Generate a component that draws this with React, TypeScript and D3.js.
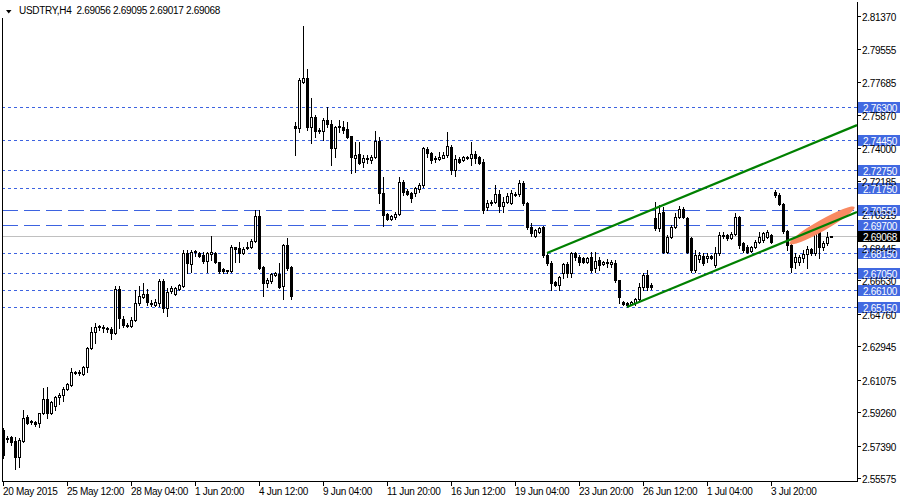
import { useEffect, useRef } from 'react';
import * as d3 from 'd3';

// USDTRY H4 bars (oldest first)
const opens = [
  2.5827, 2.5776, 2.5788, 2.5765, 2.5676, 2.5765, 2.5899, 2.5871, 2.5871, 2.5866,
  2.5921, 2.6000, 2.5921, 2.5961, 2.6011, 2.6022, 2.6055, 2.6078, 2.6150, 2.6145,
  2.6139, 2.6178, 2.6284, 2.6373, 2.6401, 2.6401, 2.6396, 2.6390, 2.6368, 2.6613,
  2.6446, 2.6412, 2.6407, 2.6440, 2.6535, 2.6569, 2.6585, 2.6535, 2.6524, 2.6535,
  2.6658, 2.6507, 2.6602, 2.6585, 2.6613, 2.6630, 2.6814, 2.6753, 2.6820, 2.6814,
  2.6803, 2.6770, 2.6809, 2.6814, 2.6764, 2.6725, 2.6714, 2.6714, 2.6848, 2.6842,
  2.6814, 2.6842, 2.6848, 2.6881, 2.7021, 2.6736, 2.6647, 2.6658, 2.6692, 2.6697,
  2.6630, 2.6859, 2.6736, 2.7523, 2.7512, 2.7768, 2.7791, 2.7517, 2.7573, 2.7501,
  2.7495, 2.7556, 2.7534, 2.7400, 2.7517, 2.7517, 2.7506, 2.7467, 2.7344, 2.7367,
  2.7322, 2.7344, 2.7333, 2.7350, 2.7439, 2.7149, 2.7032, 2.7004, 2.7015, 2.7032,
  2.7210, 2.7160, 2.7149, 2.7149, 2.7171, 2.7194, 2.7395, 2.7372, 2.7344, 2.7339,
  2.7344, 2.7361, 2.7406, 2.7277, 2.7339, 2.7333, 2.7344, 2.7344, 2.7367, 2.7350,
  2.7322, 2.7071, 2.7093, 2.7099, 2.7143, 2.7077, 2.7099, 2.7093, 2.7138, 2.7143,
  2.7205, 2.7093, 2.6959, 2.6909, 2.6931, 2.6959, 2.6803, 2.6758, 2.6652, 2.6636,
  2.6703, 2.6753, 2.6703, 2.6814, 2.6792, 2.6786, 2.6764, 2.6792, 2.6731, 2.6775,
  2.6753, 2.6764, 2.6753, 2.6758, 2.6664, 2.6541, 2.6535, 2.6530, 2.6535, 2.6558,
  2.6625, 2.6692, 2.6636, 2.7010, 2.6954, 2.7043, 2.6820, 2.6904, 2.6959, 2.7015,
  2.7060, 2.7010, 2.6898, 2.6719, 2.6781, 2.6798, 2.6786, 2.6798, 2.6747, 2.6814,
  2.6915, 2.6915, 2.6898, 2.6920, 2.7015, 2.6870, 2.6848, 2.6825, 2.6848, 2.6876,
  2.6887, 2.6904, 2.6915, 2.7154, 2.7138, 2.7088, 2.6937, 2.6859, 2.6764, 2.6764,
  2.6786, 2.6809, 2.6837, 2.6814, 2.6948, 2.6848, 2.6870, 2.69056,
];
const highs = [
  2.5838, 2.5793, 2.5793, 2.5788, 2.5782, 2.5938, 2.5910, 2.5882, 2.5877, 2.5921,
  2.6061, 2.6067, 2.5988, 2.6016, 2.6033, 2.6067, 2.6089, 2.6173, 2.6156, 2.6161,
  2.6184, 2.6290, 2.6401, 2.6424, 2.6412, 2.6412, 2.6401, 2.6401, 2.6630, 2.6630,
  2.6463, 2.6424, 2.6457, 2.6608, 2.6630, 2.6647, 2.6613, 2.6552, 2.6558, 2.6669,
  2.6669, 2.6619, 2.6630, 2.6624, 2.6641, 2.6831, 2.6831, 2.6831, 2.6831, 2.6820,
  2.6820, 2.6820, 2.6909, 2.6820, 2.6764, 2.6731, 2.6719, 2.6859, 2.6848, 2.6876,
  2.6848, 2.6876, 2.6892, 2.7054, 2.7054, 2.6742, 2.6675, 2.6703, 2.6708, 2.6758,
  2.6865, 2.6898, 2.6742, 2.7545, 2.7791, 2.8081, 2.7841, 2.7679, 2.7584, 2.7512,
  2.7568, 2.7629, 2.7556, 2.7523, 2.7556, 2.7551, 2.7545, 2.7467, 2.7434, 2.7434,
  2.7361, 2.7361, 2.7361, 2.7495, 2.7462, 2.7238, 2.7037, 2.7026, 2.7043, 2.7238,
  2.7222, 2.7171, 2.7154, 2.7182, 2.7205, 2.7406, 2.7406, 2.7378, 2.7355, 2.7378,
  2.7378, 2.7490, 2.7417, 2.7361, 2.7350, 2.7355, 2.7355, 2.7434, 2.7383, 2.7355,
  2.7339, 2.7110, 2.7110, 2.7194, 2.7166, 2.7127, 2.7149, 2.7166, 2.7154, 2.7222,
  2.7216, 2.7099, 2.6982, 2.6948, 2.6959, 2.6965, 2.6814, 2.6770, 2.6658, 2.6686,
  2.6758, 2.6764, 2.6820, 2.6820, 2.6803, 2.6792, 2.6792, 2.6820, 2.6820, 2.6792,
  2.6770, 2.6781, 2.6775, 2.6775, 2.6664, 2.6546, 2.6541, 2.6546, 2.6563, 2.6647,
  2.6703, 2.6719, 2.6647, 2.7099, 2.7082, 2.7071, 2.6915, 2.6970, 2.7037, 2.7077,
  2.7071, 2.7015, 2.6904, 2.6831, 2.6820, 2.6814, 2.6814, 2.6803, 2.6848, 2.6931,
  2.6931, 2.6920, 2.6931, 2.7037, 2.7021, 2.6876, 2.6859, 2.6853, 2.6887, 2.6931,
  2.6931, 2.6943, 2.6920, 2.7166, 2.7149, 2.7093, 2.6943, 2.6870, 2.6814, 2.6803,
  2.6831, 2.6853, 2.6842, 2.6976, 2.6965, 2.6881, 2.6931, 2.69095,
];
const lows = [
  2.5670, 2.5760, 2.5743, 2.5609, 2.5620, 2.5760, 2.5860, 2.5860, 2.5849, 2.5843,
  2.5916, 2.5894, 2.5916, 2.5938, 2.5972, 2.5988, 2.6050, 2.6072, 2.6139, 2.6133,
  2.6133, 2.6150, 2.6279, 2.6312, 2.6385, 2.6373, 2.6373, 2.6334, 2.6362, 2.6396,
  2.6401, 2.6401, 2.6401, 2.6435, 2.6524, 2.6563, 2.6524, 2.6519, 2.6519, 2.6519,
  2.6485, 2.6463, 2.6591, 2.6580, 2.6608, 2.6625, 2.6703, 2.6708, 2.6798, 2.6792,
  2.6758, 2.6708, 2.6775, 2.6758, 2.6703, 2.6703, 2.6703, 2.6708, 2.6764, 2.6764,
  2.6809, 2.6837, 2.6842, 2.6876, 2.6725, 2.6575, 2.6625, 2.6647, 2.6686, 2.6619,
  2.6558, 2.6719, 2.6558, 2.7361, 2.7490, 2.7763, 2.7501, 2.7427, 2.7462, 2.7484,
  2.7445, 2.7517, 2.7305, 2.7350, 2.7490, 2.7484, 2.7456, 2.7261, 2.7266, 2.7311,
  2.7294, 2.7316, 2.7316, 2.7344, 2.7093, 2.6965, 2.6998, 2.6998, 2.7004, 2.7026,
  2.7138, 2.7138, 2.7099, 2.7132, 2.7154, 2.7182, 2.7350, 2.7316, 2.7322, 2.7333,
  2.7344, 2.7350, 2.7255, 2.7244, 2.7316, 2.7328, 2.7339, 2.7305, 2.7316, 2.7311,
  2.7037, 2.7054, 2.7082, 2.7093, 2.7043, 2.7043, 2.7093, 2.7088, 2.7132, 2.7132,
  2.7082, 2.6948, 2.6909, 2.6904, 2.6926, 2.6792, 2.6747, 2.6608, 2.6630, 2.6608,
  2.6675, 2.6681, 2.6681, 2.6775, 2.6747, 2.6758, 2.6758, 2.6708, 2.6708, 2.6719,
  2.6747, 2.6736, 2.6736, 2.6652, 2.6535, 2.6524, 2.6513, 2.6524, 2.6524, 2.6552,
  2.6608, 2.6608, 2.6613, 2.6943, 2.6937, 2.6814, 2.6814, 2.6898, 2.6954, 2.7010,
  2.7010, 2.6814, 2.6708, 2.6708, 2.6764, 2.6747, 2.6764, 2.6781, 2.6736, 2.6803,
  2.6898, 2.6887, 2.6892, 2.6915, 2.6842, 2.6820, 2.6814, 2.6820, 2.6842, 2.6870,
  2.6876, 2.6898, 2.6870, 2.7127, 2.7082, 2.6926, 2.6831, 2.6708, 2.6731, 2.6747,
  2.6764, 2.6731, 2.6803, 2.6803, 2.6786, 2.6831, 2.6859, 2.69017,
];
const closes = [
  2.5687, 2.5782, 2.5760, 2.5676, 2.5771, 2.5894, 2.5866, 2.5877, 2.5860, 2.5921,
  2.6000, 2.5921, 2.5983, 2.6011, 2.6022, 2.6055, 2.6083, 2.6150, 2.6145, 2.6150,
  2.6178, 2.6284, 2.6373, 2.6401, 2.6407, 2.6396, 2.6390, 2.6368, 2.6613, 2.6452,
  2.6412, 2.6407, 2.6440, 2.6535, 2.6575, 2.6585, 2.6541, 2.6530, 2.6541, 2.6658,
  2.6507, 2.6597, 2.6619, 2.6619, 2.6636, 2.6814, 2.6758, 2.6820, 2.6825, 2.6798,
  2.6770, 2.6814, 2.6820, 2.6764, 2.6714, 2.6714, 2.6719, 2.6848, 2.6837, 2.6814,
  2.6837, 2.6848, 2.6881, 2.7021, 2.6731, 2.6647, 2.6664, 2.6697, 2.6703, 2.6625,
  2.6859, 2.6731, 2.6575, 2.7512, 2.7780, 2.7791, 2.7517, 2.7573, 2.7495, 2.7495,
  2.7556, 2.7534, 2.7400, 2.7517, 2.7523, 2.7501, 2.7462, 2.7350, 2.7361, 2.7316,
  2.7344, 2.7339, 2.7350, 2.7439, 2.7149, 2.7026, 2.7004, 2.7021, 2.7032, 2.7210,
  2.7154, 2.7143, 2.7121, 2.7177, 2.7194, 2.7400, 2.7372, 2.7333, 2.7339, 2.7350,
  2.7361, 2.7411, 2.7277, 2.7339, 2.7322, 2.7350, 2.7350, 2.7367, 2.7344, 2.7316,
  2.7054, 2.7093, 2.7099, 2.7143, 2.7077, 2.7099, 2.7132, 2.7149, 2.7143, 2.7205,
  2.7093, 2.6959, 2.6926, 2.6943, 2.6954, 2.6803, 2.6758, 2.6647, 2.6636, 2.6681,
  2.6753, 2.6703, 2.6814, 2.6792, 2.6764, 2.6764, 2.6786, 2.6719, 2.6770, 2.6747,
  2.6764, 2.6758, 2.6764, 2.6664, 2.6569, 2.6530, 2.6524, 2.6541, 2.6558, 2.6625,
  2.6692, 2.6625, 2.6625, 2.6954, 2.7037, 2.6820, 2.6904, 2.6959, 2.7015, 2.7060,
  2.7015, 2.6820, 2.6719, 2.6803, 2.6803, 2.6758, 2.6798, 2.6786, 2.6814, 2.6915,
  2.6909, 2.6898, 2.6920, 2.7015, 2.6859, 2.6831, 2.6820, 2.6848, 2.6876, 2.6904,
  2.6926, 2.6931, 2.6876, 2.7138, 2.7088, 2.6937, 2.6859, 2.6736, 2.6792, 2.6792,
  2.6809, 2.6837, 2.6814, 2.6948, 2.6848, 2.6870, 2.6904, 2.69068,
];

const priceTicks = [
  2.8137, 2.79555, 2.77685, 2.7587, 2.74, 2.72185, 2.70315, 2.68445,
  2.6663, 2.6476, 2.62945, 2.61075, 2.5926, 2.5739, 2.55575,
];
const dateLabels = [
  '20 May 2015', '25 May 12:00', '28 May 04:00', '1 Jun 20:00', '4 Jun 12:00',
  '9 Jun 04:00', '11 Jun 20:00', '16 Jun 12:00', '19 Jun 04:00', '23 Jun 20:00',
  '26 Jun 12:00', '1 Jul 04:00', '3 Jul 20:00',
];
const dateLabelBars = [0, 16, 32, 48, 64, 80, 96, 112, 128, 144, 160, 176, 192];

// horizontal levels drawn on the chart
const dottedLevels = [2.763, 2.7445, 2.7275, 2.7175, 2.6815, 2.6705, 2.661, 2.6515];
const dashedLevels = [2.7055, 2.697];
const lastPrice = 2.69068;

// channel lines: [barIndex, price] anchors
const channelUpper = [[136, 2.6814], [213.5, 2.7528]];
const channelLower = [[156, 2.6513], [213.5, 2.7043]];
// orange highlight stroke: [barIndex, price] ends
const highlightEnds = [[196.6, 2.6865], [212.9, 2.7071]];

const FONT = "'Liberation Sans', Arial, sans-serif";

export default function App() {
  const svgRef = useRef<SVGSVGElement>(null);

  useEffect(() => {
    if (!svgRef.current) return;
    d3.select(svgRef.current).selectAll('*').remove();

    const width = 900;
    const height = 500;
    const plotRight = 857;
    const plotBottom = 482;

    const svg = d3.select(svgRef.current).attr('width', width).attr('height', height);

    svg.append('rect').attr('width', width).attr('height', height).attr('fill', '#fff');

    const x = d3.scaleLinear().domain([0, 213.5]).range([3, plotRight]);
    const y = d3.scaleLinear().domain([2.55575, 2.8137]).range([478.2, 16]);
    const px = (i: number) => Math.round(x(i)) + 0.5;

    const crisp = svg.append('g').attr('shape-rendering', 'crispEdges');

    // dotted support / resistance
    dottedLevels.forEach(p => {
      const yy = Math.round(y(p)) + 0.5;
      crisp.append('line')
        .attr('x1', 2).attr('x2', plotRight).attr('y1', yy).attr('y2', yy)
        .attr('stroke', '#3d63e0').attr('stroke-dasharray', '3,3');
    });
    dashedLevels.forEach(p => {
      const yy = Math.round(y(p)) + 0.5;
      crisp.append('line')
        .attr('x1', 2).attr('x2', plotRight).attr('y1', yy).attr('y2', yy)
        .attr('stroke', '#3d63e0').attr('stroke-dasharray', '16,6');
    });

    // last price line
    const yLast = Math.round(y(lastPrice)) + 0.5;
    crisp.append('line')
      .attr('x1', 2).attr('x2', plotRight).attr('y1', yLast).attr('y2', yLast)
      .attr('stroke', '#c0c0c0');

    // orange highlight
    const hx1 = x(highlightEnds[0][0]), hy1 = y(highlightEnds[0][1]);
    const hx2 = x(highlightEnds[1][0]), hy2 = y(highlightEnds[1][1]);
    const len = Math.hypot(hx2 - hx1, hy2 - hy1);
    const ang = (Math.atan2(hy2 - hy1, hx2 - hx1) * 180) / Math.PI;
    svg.append('ellipse')
      .attr('cx', (hx1 + hx2) / 2).attr('cy', (hy1 + hy2) / 2)
      .attr('rx', len / 2).attr('ry', 5.5)
      .attr('transform', `rotate(${ang},${(hx1 + hx2) / 2},${(hy1 + hy2) / 2})`)
      .attr('fill', '#f98a62');

    // candles
    opens.forEach((o, i) => {
      const c = closes[i];
      const xc = px(i);
      const yH = Math.round(y(highs[i]));
      const yL = Math.round(y(lows[i]));
      const yO = Math.round(y(o));
      const yC = Math.round(y(c));
      const top = Math.min(yO, yC);
      const bot = Math.max(yO, yC);

      crisp.append('line')
        .attr('x1', xc).attr('x2', xc).attr('y1', yH).attr('y2', yL + 1)
        .attr('stroke', '#000');

      if (bot === top) {
        crisp.append('line')
          .attr('x1', xc - 1.5).attr('x2', xc + 1.5)
          .attr('y1', top + 0.5).attr('y2', top + 0.5)
          .attr('stroke', '#000');
      } else if (c > o) {
        crisp.append('rect')
          .attr('x', xc - 1).attr('y', top + 0.5)
          .attr('width', 2).attr('height', bot - top)
          .attr('fill', '#fff').attr('stroke', '#000');
      } else {
        crisp.append('rect')
          .attr('x', xc - 1.5).attr('y', top)
          .attr('width', 3).attr('height', bot - top + 1)
          .attr('fill', '#000');
      }
    });

    // channel
    [channelUpper, channelLower].forEach(pts => {
      svg.append('line')
        .attr('x1', x(pts[0][0])).attr('y1', y(pts[0][1]))
        .attr('x2', x(pts[1][0])).attr('y2', y(pts[1][1]))
        .attr('stroke', '#008000').attr('stroke-width', 2.2);
    });

    // frame
    crisp.append('line').attr('x1', 2.5).attr('x2', 2.5).attr('y1', 18).attr('y2', plotBottom)
      .attr('stroke', '#000');
    crisp.append('line').attr('x1', plotRight + 0.5).attr('x2', plotRight + 0.5)
      .attr('y1', 2).attr('y2', plotBottom).attr('stroke', '#000');
    crisp.append('line').attr('x1', 2).attr('x2', plotRight + 1)
      .attr('y1', plotBottom - 0.5).attr('y2', plotBottom - 0.5).attr('stroke', '#000');

    // price axis
    priceTicks.forEach(p => {
      const yy = Math.round(y(p)) + 0.5;
      crisp.append('line').attr('x1', plotRight + 1).attr('x2', plotRight + 4)
        .attr('y1', yy).attr('y2', yy).attr('stroke', '#000');
      svg.append('text')
        .attr('x', 862).attr('y', yy + 4)
        .attr('font-family', FONT).attr('font-size', 10).attr('letter-spacing', -0.3)
        .attr('fill', '#000')
        .text(p.toFixed(5));
    });

    // level labels
    const levelLabel = (p: number, bg: string) => {
      const yy = Math.round(y(p)) + 1;
      crisp.append('rect')
        .attr('x', 858).attr('y', yy - 6).attr('width', 42).attr('height', 11)
        .attr('fill', bg);
      svg.append('text')
        .attr('x', 863).attr('y', yy + 3.5)
        .attr('font-family', FONT).attr('font-size', 10).attr('letter-spacing', -0.3)
        .attr('fill', '#fff')
        .text(p.toFixed(5));
    };
    [...dottedLevels, ...dashedLevels].forEach(p => levelLabel(p, '#4169e1'));
    levelLabel(lastPrice, '#000');

    // time axis
    dateLabelBars.forEach((b, k) => {
      const xx = px(b);
      crisp.append('line').attr('x1', xx).attr('x2', xx)
        .attr('y1', plotBottom).attr('y2', plotBottom + 4).attr('stroke', '#000');
      svg.append('text')
        .attr('x', xx - 0.5).attr('y', 495)
        .attr('font-family', FONT).attr('font-size', 10).attr('letter-spacing', -0.3)
        .attr('fill', '#000')
        .text(dateLabels[k]);
    });

    // title
    svg.append('path').attr('d', 'M6,10 L11.5,10 L8.75,13.5 Z').attr('fill', '#000');
    svg.append('text')
      .attr('x', 19).attr('y', 14)
      .attr('font-family', FONT).attr('font-size', 10).attr('letter-spacing', -0.3)
      .attr('fill', '#000')
      .attr('xml:space', 'preserve')
      .style('white-space', 'pre')
      .text(symbolTitle);
  }, []);

  return (
    <div style={{ position: 'absolute', left: 0, top: 0, width: 900, height: 500 }}>
      <svg ref={svgRef} style={{ display: 'block' }}></svg>
    </div>
  );
}

const symbolTitle = 'USDTRY,H4  2.69056 2.69095 2.69017 2.69068';
